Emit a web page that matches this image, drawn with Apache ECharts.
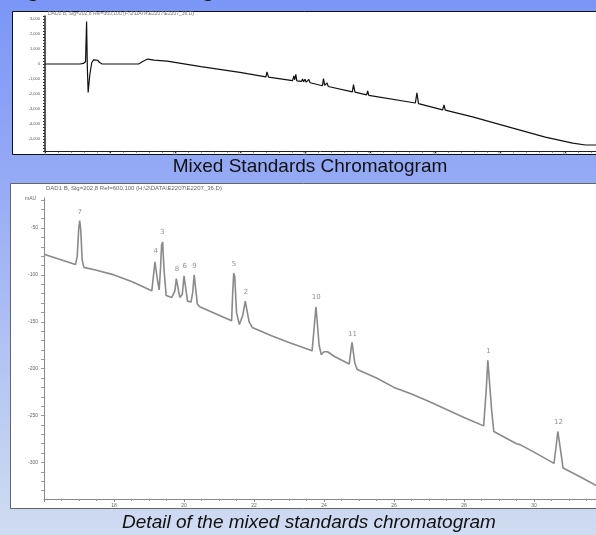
<!DOCTYPE html>
<html>
<head>
<meta charset="utf-8">
<script src="https://cdn.jsdelivr.net/npm/echarts@6/dist/echarts.min.js"></script>
<style>
  html, body { margin: 0; padding: 0; }
  #chart { width: 596px; height: 535px; }
</style>
</head>
<body>
<div id="chart"></div>
<script>
// full run (top panel), time in min / signal
var fullTrace = [
  [0, 0], [2.7, 0], [2.95, 40], [3.12, 150], [3.2, 2830], [3.26, -300], [3.32, -1900],
  [3.45, -700], [3.6, 100], [3.75, 280], [3.9, 330], [4.05, 250], [4.2, 100], [4.4, 0],
  [7.2, 0], [7.55, 180], [7.9, 330], [8.4, 260], [9.4, 190], [12.0, -180], [15.0, -560],
  [17.0, -860], [17.08, -520], [17.12, -420], [17.2, -880], [19.05, -1110], [19.15, -800],
  [19.22, -1050], [19.3, -690], [19.38, -1130], [19.75, -1160], [19.82, -1000], [19.9, -1190],
  [20.0, -1020], [20.1, -1210], [20.3, -1030], [20.4, -1250], [21.35, -1450], [21.43, -980],
  [21.52, -1420], [21.7, -1260], [21.8, -1500], [23.65, -1860], [23.74, -1380], [23.85, -1880],
  [24.75, -2060], [24.83, -1800], [24.92, -2090], [28.5, -2600], [28.62, -1930], [28.74, -2640],
  [30.6, -3060], [30.7, -2730], [30.8, -3080], [32.9, -3530], [36.0, -4270], [38.5, -4870],
  [40.6, -5270], [41.6, -5400], [42.4, -5400]
];

// detail (bottom panel), time in min / mAU
var detailTrace = [
  [16.0, -78], [16.9, -89], [16.95, -80], [16.99, -52], [17.02, -42], [17.05, -52],
  [17.09, -84], [17.14, -92], [17.5, -95], [18.0, -100], [18.5, -107], [19.08, -117],
  [19.13, -100], [19.17, -86], [19.2, -85], [19.24, -105], [19.29, -116], [19.33, -92],
  [19.36, -68], [19.39, -65], [19.43, -95], [19.49, -122], [19.65, -124], [19.74, -117],
  [19.78, -104], [19.82, -104], [19.88, -124], [19.95, -121], [20.0, -101], [20.04, -101],
  [20.1, -128], [20.2, -129], [20.25, -118], [20.29, -100], [20.32, -101], [20.38, -131],
  [20.45, -134], [21.0, -143], [21.36, -149], [21.39, -120], [21.42, -98], [21.45, -102],
  [21.5, -140], [21.58, -153], [21.68, -143], [21.75, -128], [21.79, -128], [21.86, -150],
  [21.95, -156], [22.5, -165], [23.0, -172], [23.66, -181], [23.72, -155], [23.77, -134],
  [23.8, -136], [23.86, -175], [23.92, -185], [24.0, -182], [24.1, -182], [24.3, -187],
  [24.72, -195], [24.77, -180], [24.8, -172], [24.83, -174], [24.88, -194], [24.95, -201],
  [25.5, -210], [26.0, -220], [26.5, -227], [27.0, -235], [28.0, -252], [28.56, -261],
  [28.63, -225], [28.68, -191], [28.72, -192], [28.79, -245], [28.85, -267], [29.5, -280],
  [29.55, -278], [29.6, -281], [30.0, -289], [30.57, -301], [30.63, -283], [30.68, -267],
  [30.72, -268], [30.78, -293], [30.83, -306], [31.3, -315], [31.8, -325]
];

// peak numbers on the detail view: [time, apex, label]
var peakNames = ['7', '4', '3', '8', '6', '9', '5', '2', '10', '11', '1', '12'];
var peakTimes = [17.02, 19.19, 19.38, 19.8, 20.02, 20.3, 21.43, 21.77, 23.78, 24.81, 28.7, 30.7];
var peakTops = [-42, -84, -64, -103, -100, -100, -98, -127, -133, -172, -190, -266];

var fullYLabels = [-5000, -4000, -3000, -2000, -1000, 0, 1000, 2000, 3000];
var detailYLabels = [-300, -250, -200, -150, -100, -50];

var fullYTicks = [];
for (var v = -5800; v <= 3200; v += 200) fullYTicks.push(v);
var detailYTicks = [];
for (var w = -330; w <= -20; w += 10) detailYTicks.push(w);

var peaks = peakNames.map(function (n, i) { return [peakTimes[i], peakTops[i], n]; });

var chart = echarts.init(document.getElementById('chart'));

var tinyFont = 'Liberation Sans, Arial, sans-serif';

chart.setOption({
  animation: false,
  backgroundColor: 'transparent',
  graphic: [
    {
      type: 'rect', z: -20, silent: true,
      shape: { x: 0, y: 0, width: 596, height: 535 },
      style: {
        fill: new echarts.graphic.LinearGradient(0, 0, 0, 1, [
          { offset: 0, color: '#7b96f7' },
          { offset: 0.33, color: '#95aaf5' },
          { offset: 1, color: '#d0dcf1' }
        ])
      }
    },
    {
      type: 'text', z: -15, silent: true, left: 8, top: -19,
      style: { text: 'Figure 2: Chromatograms of the Mixed Standards Solution', fill: '#111',
        font: 'bold 21px Liberation Sans, Arial, sans-serif' }
    },
    {
      type: 'rect', z: -10, silent: true,
      shape: { x: 12.5, y: 11.5, width: 600, height: 143 },
      style: { fill: '#fff', stroke: '#111', lineWidth: 1 }
    },
    {
      type: 'rect', z: -10, silent: true,
      shape: { x: 10.5, y: 183.5, width: 600, height: 325 },
      style: { fill: '#fff', stroke: '#666', lineWidth: 1 }
    },
    {
      type: 'text', silent: true, x: 310, y: 176,
      style: { text: 'Mixed Standards Chromatogram', fill: '#111', align: 'center', verticalAlign: 'bottom',
        font: '19px Liberation Sans, Arial, sans-serif' }
    },
    {
      type: 'text', silent: true, x: 309, y: 532,
      style: { text: 'Detail of the mixed standards chromatogram', fill: '#111', align: 'center', verticalAlign: 'bottom',
        font: 'italic 19px Liberation Sans, Arial, sans-serif' }
    },
    {
      type: 'text', silent: true, x: 48, y: 11,
      style: { text: 'DAD1 B, Sig=202,8 Ref=360,100 (F:\\2\\DATA\\E2207\\E2207_36.D)', fill: '#777',
        font: '5px ' + tinyFont }
    },
    {
      type: 'text', silent: true, x: 46, y: 185,
      style: { text: 'DAD1 B, Sig=202,8 Ref=600,100 (H:\\2\\DATA\\E2207\\E2207_36.D)', fill: '#666',
        font: '6px ' + tinyFont }
    },
    {
      type: 'text', silent: true, x: 25, y: 196,
      style: { text: 'mAU', fill: '#666', font: '5px ' + tinyFont }
    }
  ],
  grid: [
    { left: 45, top: 16, width: 551, height: 135 },
    { left: 44, top: 198, width: 552, height: 301 }
  ],
  xAxis: [
    {
      type: 'value', gridIndex: 0, min: 0, max: 42.4, interval: 5,
      axisLine: { onZero: false, lineStyle: { color: '#222', width: 1 } },
      axisTick: { length: 2, lineStyle: { color: '#222' } },
      minorTick: { show: true, splitNumber: 5, length: 1.5, lineStyle: { color: '#333' } },
      axisLabel: { fontSize: 4, color: '#555', margin: 1, fontFamily: tinyFont, showMaxLabel: false },
      splitLine: { show: false }
    },
    {
      type: 'value', gridIndex: 1, min: 16, max: 31.77, interval: 2,
      axisLine: { onZero: false, lineStyle: { color: '#888', width: 1 } },
      axisTick: { length: 3, lineStyle: { color: '#888' } },
      minorTick: { show: true, splitNumber: 4, length: 2, lineStyle: { color: '#999' } },
      axisLabel: { fontSize: 5, color: '#666', margin: 4, fontFamily: tinyFont, showMinLabel: false, showMaxLabel: false },
      splitLine: { show: false }
    }
  ],
  yAxis: [
    {
      type: 'value', gridIndex: 0, min: -5800, max: 3200,
      axisLine: { show: true, onZero: false, lineStyle: { color: '#222', width: 1.5 } },
      axisTick: { show: true, length: 2, customValues: fullYTicks, lineStyle: { color: '#333' } },
      axisLabel: { fontSize: 4, color: '#555', margin: 5, fontFamily: tinyFont, customValues: fullYLabels },
      splitLine: { show: false }
    },
    {
      type: 'value', gridIndex: 1, min: -339, max: -18,
      axisLine: { show: true, onZero: false, lineStyle: { color: '#888', width: 1 } },
      axisTick: { show: true, length: 3, customValues: detailYTicks, lineStyle: { color: '#999' } },
      axisLabel: { fontSize: 5, color: '#666', margin: 6, fontFamily: tinyFont, customValues: detailYLabels },
      splitLine: { show: false }
    }
  ],
  series: [
    {
      type: 'line', xAxisIndex: 0, yAxisIndex: 0, data: fullTrace,
      showSymbol: false, symbol: 'none',
      lineStyle: { color: '#111', width: 1.2 }
    },
    {
      type: 'line', xAxisIndex: 1, yAxisIndex: 1, data: detailTrace,
      showSymbol: false, symbol: 'none',
      lineStyle: { color: '#8a8a8a', width: 1.6 }
    },
    {
      type: 'scatter', xAxisIndex: 1, yAxisIndex: 1, data: peaks,
      symbolSize: 0, silent: true,
      label: {
        show: true, position: 'top', distance: 5,
        formatter: function (p) { return p.data[2]; },
        fontSize: 7, color: '#777', fontFamily: 'DejaVu Sans, sans-serif'
      }
    }
  ]
});
</script>
</body>
</html>
